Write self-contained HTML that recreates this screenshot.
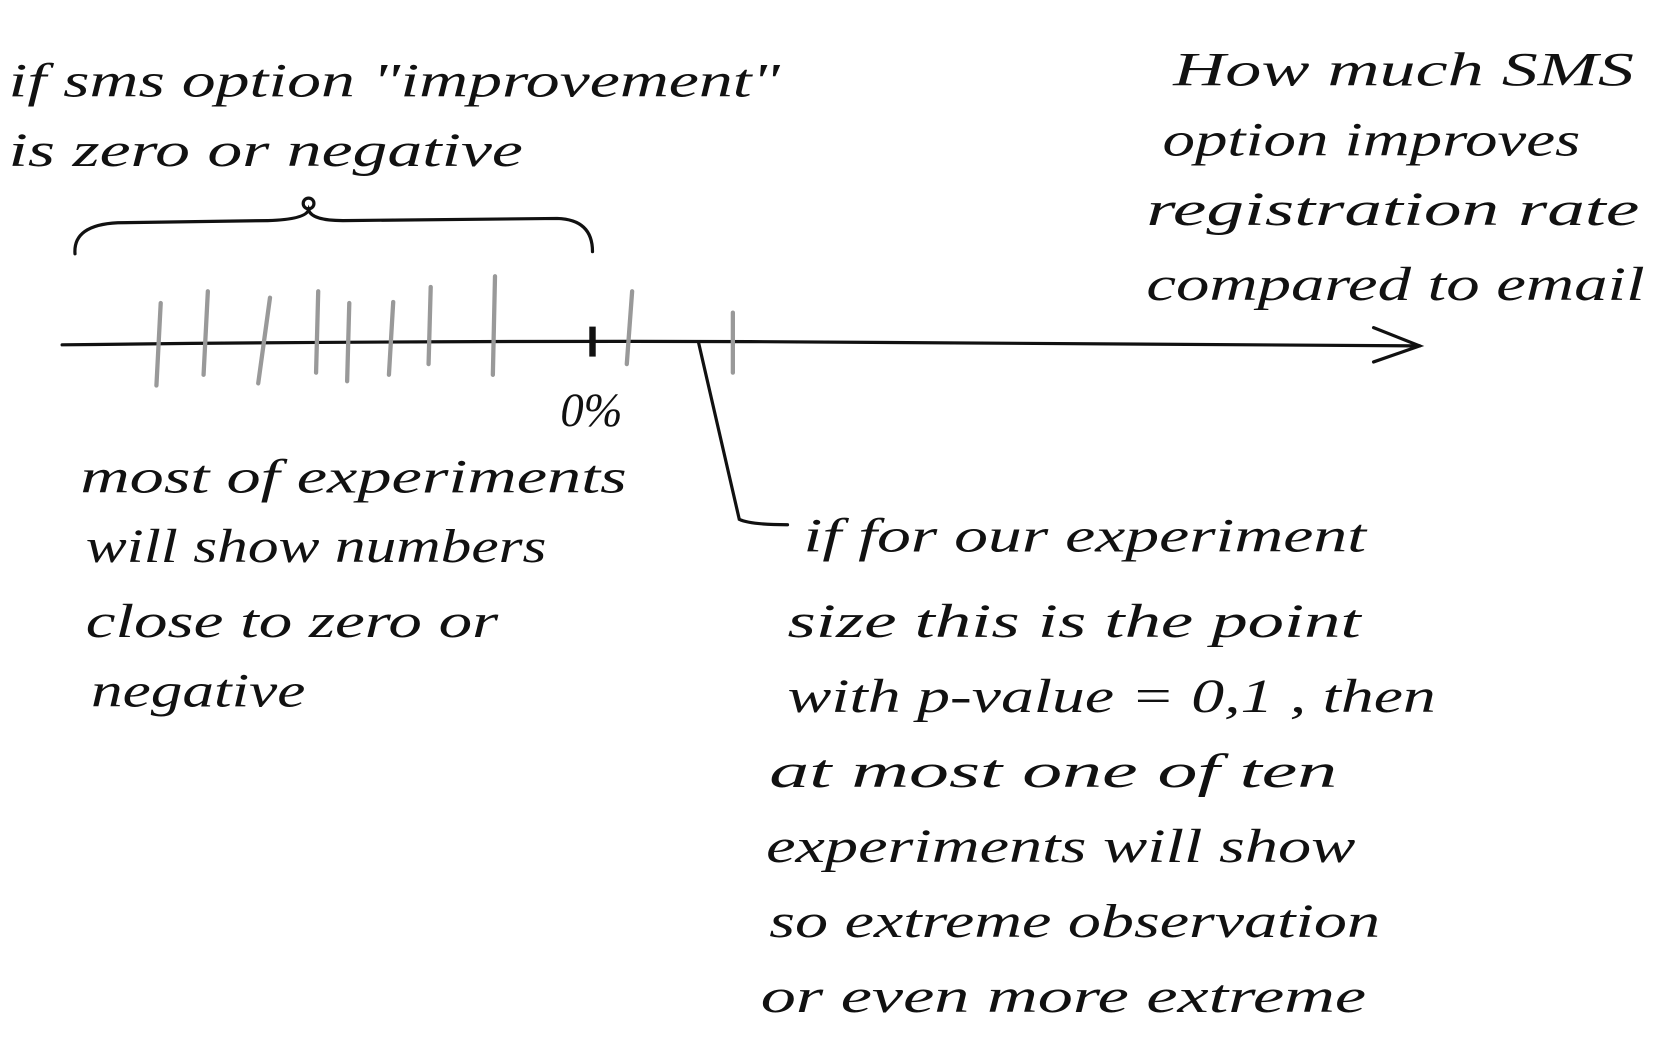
<!DOCTYPE html>
<html><head><meta charset="utf-8"><style>
html,body{margin:0;padding:0;background:#fff;}
svg{display:block;}
text{font-family:"Liberation Serif",serif;font-style:italic;font-size:44px;fill:#111;}
</style></head><body>
<svg width="1680" height="1058" viewBox="0 0 1568 988" preserveAspectRatio="none" xmlns="http://www.w3.org/2000/svg">
<rect width="1568" height="988" fill="#fff"/>
<g stroke="#111" stroke-width="3" fill="none" stroke-linecap="round">
<path d="M58 322 Q400 318 700 319 T1325 323"/>
<path d="M1282 306 L1325 323 L1282 338"/>
<path d="M70 237 Q68 210 110 208 L250 206 Q285 205 288 196 Q291 206 320 206 L520 204 Q553 205 553 235"/>
<circle cx="288" cy="190" r="5"/>
<path d="M652 320 L690 485 Q700 490 735 490"/>
</g>
<g stroke="#999" stroke-width="4" stroke-linecap="round">
<line x1="150" y1="283" x2="146" y2="360"/>
<line x1="194" y1="272" x2="190" y2="350"/>
<line x1="252" y1="278" x2="241" y2="358"/>
<line x1="297" y1="272" x2="295" y2="348"/>
<line x1="326" y1="283" x2="324" y2="356"/>
<line x1="367" y1="282" x2="363" y2="350"/>
<line x1="402" y1="268" x2="400" y2="340"/>
<line x1="462" y1="258" x2="460" y2="350"/>
<line x1="590" y1="272" x2="585" y2="340"/>
<line x1="684" y1="292" x2="684" y2="348"/>
</g>
<line x1="553" y1="305" x2="553" y2="333" stroke="#111" stroke-width="6"/>
<text x="8" y="90" textLength="720" lengthAdjust="spacingAndGlyphs">if sms option "improvement"</text>
<text x="8" y="155" textLength="480" lengthAdjust="spacingAndGlyphs">is  zero or negative</text>
<text x="1095" y="80" textLength="430" lengthAdjust="spacingAndGlyphs">How much  SMS</text>
<text x="1085" y="145" textLength="390" lengthAdjust="spacingAndGlyphs">option improves</text>
<text x="1070" y="210" textLength="460" lengthAdjust="spacingAndGlyphs">registration rate</text>
<text x="1070" y="280" textLength="465" lengthAdjust="spacingAndGlyphs">compared to email</text>
<text x="523" y="398" textLength="58" lengthAdjust="spacingAndGlyphs">0%</text>
<text x="75" y="460" textLength="510" lengthAdjust="spacingAndGlyphs">most of experiments</text>
<text x="80" y="525" textLength="430" lengthAdjust="spacingAndGlyphs">will show numbers</text>
<text x="80" y="595" textLength="385" lengthAdjust="spacingAndGlyphs">close to zero or</text>
<text x="85" y="660" textLength="200" lengthAdjust="spacingAndGlyphs">negative</text>
<text x="750" y="515" textLength="525" lengthAdjust="spacingAndGlyphs">if for our experiment</text>
<text x="735" y="595" textLength="535" lengthAdjust="spacingAndGlyphs">size this is the point</text>
<text x="735" y="665" textLength="605" lengthAdjust="spacingAndGlyphs">with p-value = 0,1 , then</text>
<text x="718" y="735" textLength="530" lengthAdjust="spacingAndGlyphs">at most one of ten</text>
<text x="715" y="805" textLength="550" lengthAdjust="spacingAndGlyphs">experiments will show</text>
<text x="718" y="875" textLength="570" lengthAdjust="spacingAndGlyphs">so extreme observation</text>
<text x="710" y="945" textLength="565" lengthAdjust="spacingAndGlyphs">or even more extreme</text>
</svg>
</body></html>
